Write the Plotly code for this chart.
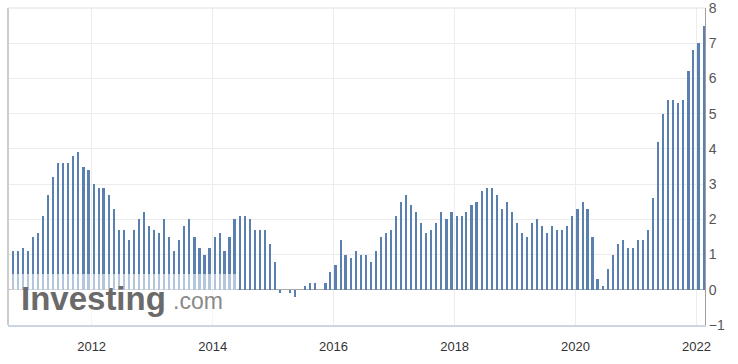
import pandas as pd
import plotly.graph_objects as go

# US CPI YoY (%), reference months Aug 2010 .. Jan 2022
start_month = "2010-08-01"
values = [
    1.1, 1.1, 1.2, 1.1, 1.5,                                      # 2010 Aug-Dec
    1.6, 2.1, 2.7, 3.2, 3.6, 3.6, 3.6, 3.8, 3.9, 3.5, 3.4, 3.0,   # 2011
    2.9, 2.9, 2.7, 2.3, 1.7, 1.7, 1.4, 1.7, 2.0, 2.2, 1.8, 1.7,   # 2012
    1.6, 2.0, 1.5, 1.1, 1.4, 1.8, 2.0, 1.5, 1.2, 1.0, 1.2, 1.5,   # 2013
    1.6, 1.1, 1.5, 2.0, 2.1, 2.1, 2.0, 1.7, 1.7, 1.7, 1.3, 0.8,   # 2014
    -0.1, 0.0, -0.1, -0.2, 0.0, 0.1, 0.2, 0.2, 0.0, 0.2, 0.5, 0.7,  # 2015
    1.4, 1.0, 0.9, 1.1, 1.0, 1.0, 0.8, 1.1, 1.5, 1.6, 1.7, 2.1,   # 2016
    2.5, 2.7, 2.4, 2.2, 1.9, 1.6, 1.7, 1.9, 2.2, 2.0, 2.2, 2.1,   # 2017
    2.1, 2.2, 2.4, 2.5, 2.8, 2.9, 2.9, 2.7, 2.3, 2.5, 2.2, 1.9,   # 2018
    1.6, 1.5, 1.9, 2.0, 1.8, 1.6, 1.8, 1.7, 1.7, 1.8, 2.1, 2.3,   # 2019
    2.5, 2.3, 1.5, 0.3, 0.1, 0.6, 1.0, 1.3, 1.4, 1.2, 1.2, 1.4,   # 2020
    1.4, 1.7, 2.6, 4.2, 5.0, 5.4, 5.4, 5.3, 5.4, 6.2, 6.8, 7.0,   # 2021
    7.5,                                                          # 2022 Jan
]
ref_months = pd.date_range(start_month, periods=len(values), freq="MS")
# bars are placed at the release date (mid of following month)
release_dates = ref_months + pd.DateOffset(months=1, days=12)

y_ticks = [-1, 0, 1, 2, 3, 4, 5, 6, 7, 8]
x_range = ["2010-08-14", "2022-02-21"]

fig = go.Figure()
fig.add_trace(go.Bar(
    x=release_dates, y=values,
    width=13 * 86400000,
    marker=dict(color="#5a80b0", line=dict(width=0)),
    hoverinfo="x+y",
))

fig.update_layout(
    width=738, height=364,
    margin=dict(l=8, r=33, t=8, b=39, autoexpand=False),
    paper_bgcolor="white", plot_bgcolor="white",
    showlegend=False,
    bargap=0,
    font=dict(family="Liberation Sans, Arial, sans-serif", size=13, color="#444"),
    xaxis=dict(
        range=x_range, type="date", automargin=False,
        tick0="2012-01-01", dtick="M24", tickformat="%Y",
        showgrid=True, gridcolor="#ececec", gridwidth=1,
        showline=True, linecolor="#ccd6e0", linewidth=2,
        ticks="", zeroline=False, ticklabelstandoff=8,
        ticklabeloverflow="allow",
        tickfont=dict(size=13, color="#333333"),
    ),
    yaxis=dict(
        range=[-1, 8], side="right", automargin=False,
        tickvals=y_ticks, ticklabeloverflow="allow",
        showgrid=True, gridcolor="#ececec", gridwidth=1,
        zeroline=True, zerolinecolor="#a8a8a8", zerolinewidth=1,
        showline=True, linecolor="#a0a0a0", linewidth=1,
        ticks="", tickfont=dict(size=14, color="#555555"),
    ),
    shapes=[
        # left border
        dict(type="line", xref="paper", yref="paper", x0=0, x1=0, y0=0, y1=1,
             line=dict(color="#cccccc", width=2)),
        # top border
        dict(type="line", xref="paper", yref="paper", x0=0, x1=1, y0=1, y1=1,
             line=dict(color="#e0e0e0", width=1)),
        # watermark veil
        dict(type="rect", xref="paper", yref="paper", x0=0.003, x1=0.329, y0=0.004, y1=0.161,
             fillcolor="rgba(255,255,255,0.55)", line=dict(width=0), layer="above"),
    ],
    annotations=[
        dict(text="<b>Investing</b>", xref="paper", yref="paper", x=0.0155, y=0.02,
             xanchor="left", yanchor="bottom", showarrow=False,
             font=dict(family="Liberation Sans, Arial, sans-serif", size=33, color="#6a6a6a")),
        dict(text=".com", xref="paper", yref="paper", x=0.234, y=0.027,
             xanchor="left", yanchor="bottom", showarrow=False,
             font=dict(family="Liberation Sans, Arial, sans-serif", size=23, color="#8a8a8a")),
    ],
)

fig.write_html("out.html", config={"displayModeBar": False},
               post_script="document.body.style.margin='0px';")
